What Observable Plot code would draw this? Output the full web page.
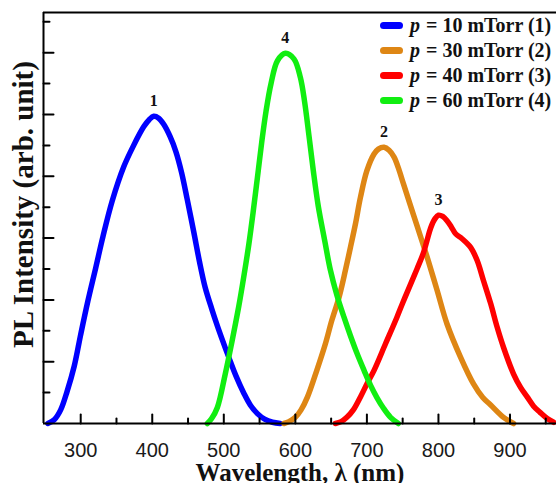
<!DOCTYPE html>
<html>
<head>
<meta charset="utf-8">
<script src="https://cdn.jsdelivr.net/npm/d3@7"></script>
<script src="https://cdn.jsdelivr.net/npm/@observablehq/plot@0.6"></script>
<style>
  body { margin: 0; background: #fff; }
  #chart { position: relative; width: 556px; height: 483px; overflow: hidden; }
  .legend { position: absolute; left: 380px; top: 13px; font: bold 20px "Liberation Serif", "Times New Roman", serif; color: #111; }
  .legend .row { display: flex; align-items: center; height: 25px; white-space: nowrap; }
  .legend .sw { width: 23px; height: 7px; border-radius: 4px; margin-right: 7px; flex: none; }
  .legend i { margin-right: 1px; }
</style>
</head>
<body>
<div id="chart"></div>
<script>
// Series: chamber pressure, curve number, colour
const seriesNames = ["10", "30", "40", "60"];
const seriesNumbers = ["1", "2", "3", "4"];
const seriesColors = ["#0000ff", "#de8614", "#ff0000", "#11ee11"];

// PL spectra, wavelength (nm) and intensity (arb. unit)
const wl10 = [254, 263, 272, 281, 291, 300, 310, 321, 331, 344, 360, 374, 388, 396, 402, 409, 416, 425, 433, 441, 449, 458, 466, 474, 483, 491, 499, 507, 517, 528, 537, 547, 557, 568, 579];
const pl10 = [0, 0.06, 0.22, 0.52, 0.93, 1.44, 1.98, 2.52, 3.02, 3.60, 4.15, 4.50, 4.80, 4.92, 4.97, 4.94, 4.84, 4.64, 4.40, 4.06, 3.62, 3.10, 2.62, 2.20, 1.86, 1.58, 1.32, 1.07, 0.77, 0.49, 0.30, 0.16, 0.07, 0.02, 0];

const wl30 = [584, 591, 600, 608, 617, 630, 642, 651, 661, 670, 677, 684, 691, 700, 710, 716, 724, 731, 738, 745, 751, 765, 779, 784, 798, 812, 831, 849, 862, 873, 891, 905];
const pl30 = [0, 0.03, 0.10, 0.22, 0.43, 0.86, 1.29, 1.67, 2.04, 2.48, 2.85, 3.23, 3.66, 4.09, 4.36, 4.44, 4.47, 4.42, 4.31, 4.10, 3.88, 3.38, 2.88, 2.70, 2.16, 1.61, 1.07, 0.64, 0.42, 0.30, 0.10, 0];

const wl40 = [656, 664, 672, 681, 691, 700, 710, 726, 742, 750, 758, 770, 779, 784, 789, 795, 800, 806, 812, 818, 824, 833, 845, 854, 863, 873, 882, 891, 905, 915, 924, 933, 942, 952, 961];
const pl40 = [0, 0.03, 0.10, 0.22, 0.43, 0.64, 0.86, 1.29, 1.72, 1.95, 2.17, 2.50, 2.76, 2.96, 3.16, 3.31, 3.37, 3.35, 3.28, 3.18, 3.07, 2.99, 2.85, 2.64, 2.31, 1.94, 1.56, 1.23, 0.80, 0.58, 0.43, 0.28, 0.18, 0.08, 0.02];

const wl60 = [477, 483, 491, 502, 512, 521, 528, 535, 541, 547, 553, 559, 566, 575, 586, 598, 607, 613, 619, 625, 632, 641, 649, 658, 668, 677, 686, 696, 705, 714, 723, 733, 744];
const pl60 = [0, 0.08, 0.26, 0.80, 1.36, 1.90, 2.38, 2.90, 3.42, 3.98, 4.55, 5.05, 5.50, 5.87, 5.99, 5.90, 5.60, 5.20, 4.66, 4.10, 3.52, 2.96, 2.48, 2.08, 1.72, 1.42, 1.14, 0.86, 0.62, 0.42, 0.25, 0.10, 0];

// Axes
const xDomain = [248, 965];
const yDomain = [0, 6.65];
const xMajor = [300, 400, 500, 600, 700, 800, 900];
const xMinor = [350, 450, 550, 650, 750, 850, 950];
const yMajor = [1, 2, 3, 4, 5, 6];
const yMinor = [0.5, 1.5, 2.5, 3.5, 4.5, 5.5, 6.5];
const xTitle = "Wavelength, λ (nm)";
const yTitle = "PL Intensity (arb. unit)";

const wls = [wl10, wl30, wl40, wl60];
const pls = [pl10, pl30, pl40, pl60];
const rows = seriesNames.flatMap((s, i) => wls[i].map((w, j) => ({series: s, wl: w, I: pls[i][j]})));
const peaks = seriesNames.map((s, i) => {
  const r = d3.greatest(rows.filter(d => d.series === s), d => d.I);
  return {...r, label: seriesNumbers[i]};
});

const serif = "'Liberation Serif', 'Times New Roman', serif";
const sans = "'Liberation Sans', Arial, sans-serif";
// inward tick: a plain stroke drawn from the axis into the frame
const tickShape = {draw(context, l) { context.moveTo(0, 0); context.lineTo(0, -l); }};

const plot = Plot.plot({
  width: 556,
  height: 483,
  marginLeft: 43,
  marginRight: 0,
  marginTop: 12,
  marginBottom: 60,
  style: {background: "#fff", fontFamily: sans, color: "#000"},
  x: {domain: xDomain, axis: null},
  y: {domain: yDomain, axis: null},
  color: {domain: seriesNames, range: seriesColors},
  marks: [
    Plot.line(rows, {x: "wl", y: "I", z: "series", stroke: "series", strokeWidth: 5.5, curve: "catmull-rom", strokeLinecap: "round", strokeLinejoin: "round"}),
    Plot.ruleY([yDomain[0]], {stroke: "#000", strokeWidth: 2}),
    Plot.ruleY([yDomain[1]], {stroke: "#000", strokeWidth: 2}),
    Plot.ruleX([xDomain[0]], {stroke: "#000", strokeWidth: 2}),
    Plot.vector(xMajor, {x: d => d, frameAnchor: "bottom", length: 9, rotate: 0, anchor: "start", shape: tickShape, stroke: "#000", strokeWidth: 2}),
    Plot.vector(xMinor, {x: d => d, frameAnchor: "bottom", length: 5, rotate: 0, anchor: "start", shape: tickShape, stroke: "#000", strokeWidth: 2}),
    Plot.vector(yMajor, {y: d => d, frameAnchor: "left", length: 10, rotate: 90, anchor: "start", shape: tickShape, stroke: "#000", strokeWidth: 2}),
    Plot.vector(yMinor, {y: d => d, frameAnchor: "left", length: 6, rotate: 90, anchor: "start", shape: tickShape, stroke: "#000", strokeWidth: 2}),
    // tick labels
    Plot.text(xMajor, {x: d => d, text: d => String(d), frameAnchor: "bottom", lineAnchor: "middle", textAnchor: "middle", dy: 27, fontFamily: sans, fontSize: 20, fill: "#1a1a1a"}),
    // curve numbers above each peak
    Plot.text(peaks, {x: "wl", y: "I", text: "label", dy: -15, fontFamily: serif, fontWeight: "bold", fontSize: 16, fill: "#111"}),
    // axis titles
    Plot.text([xTitle], {text: d => d, frameAnchor: "bottom", lineAnchor: "middle", textAnchor: "middle", dy: 49, fontFamily: serif, fontWeight: "bold", fontSize: 25, fill: "#111"}),
    Plot.text([yTitle], {text: d => d, frameAnchor: "left", lineAnchor: "middle", textAnchor: "middle", rotate: -90, dx: -20, dy: -13.5, fontFamily: serif, fontWeight: "bold", fontSize: 29, fill: "#111"})
  ]
});

const chart = document.getElementById("chart");
chart.appendChild(plot);

// Legend
const legend = document.createElement("div");
legend.className = "legend";
seriesNames.forEach((s, i) => {
  const row = document.createElement("div");
  row.className = "row";
  row.innerHTML = `<span class="sw" style="background:${seriesColors[i]}"></span><i>p</i>&nbsp;= ${s} mTorr (${seriesNumbers[i]})`;
  legend.appendChild(row);
});
chart.appendChild(legend);
</script>
</body>
</html>
